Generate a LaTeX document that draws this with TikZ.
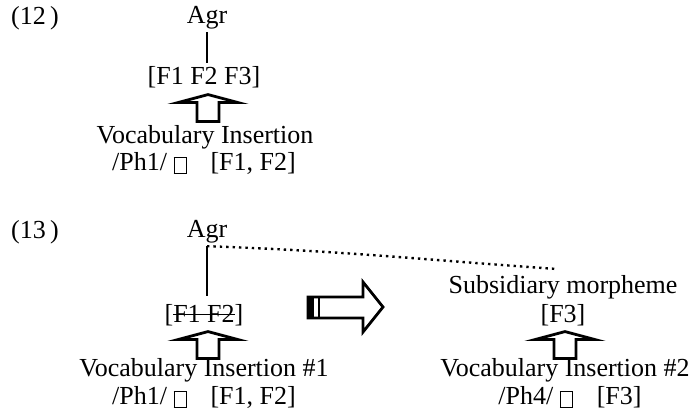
\documentclass[tikz,border=0pt]{standalone}
\usepackage{fontspec}
\setmainfont{Liberation Serif}
\usepackage{tikz}
\usetikzlibrary{calc}

\newcommand{\tofu}{\raisebox{-1.5pt}{\setlength{\fboxsep}{0pt}\setlength{\fboxrule}{0.5pt}%
	\fbox{\rule{0pt}{7.5pt}\rule{5.5pt}{0pt}}}}
\newcommand{\strikeout}[1]{\setbox0\hbox{#1}\rlap{\rule[0.3em]{\wd0}{0.45pt}}\box0}
% block arrow pointing up, #1 = tip
\newcommand{\blockup}[1]{\draw[blockarrow] (#1) -- ++(30,8) -- ++(-19,0) -- ++(0,19)
	-- ++(-22,0) -- ++(0,-19) -- ++(-19,0) -- cycle;}

\begin{document}
\begin{tikzpicture}[x=0.5pt, y=-0.5pt, thick]
\tikzstyle{every node} = [inner sep=1pt, font=\fontsize{13}{15}\selectfont]
\tikzstyle{blockarrow} = [line width=1.4pt, line join=miter, fill=white]
\useasboundingbox (0,0) rectangle (695,414);

% (12)
\node (ex12) at (35,18) {(12\,)};
\node (agr1) at (207,18) {Agr};
\node (feat1) at (204,77) {[F1 F2 F3]};
\node (vi1) at (205,137) {Vocabulary Insertion};
\node (ph1) at (204,163) {/Ph1/ \tofu\hspace{12pt}[F1, F2]};
\draw (agr1.south) -- (agr1.south |- feat1.north);
\blockup{$(feat1.south)+(4,4)$}

% (13)
\node (ex13) at (35,232) {(13\,)};
\node (agr2) at (207,232) {Agr};
\node (feat2) at (204,315) {[\strikeout{F1 F2}]};
\node (vi2) at (204,370) {Vocabulary Insertion \#1};
\node (ph2) at (204,397) {/Ph1/ \tofu\hspace{12pt}[F1, F2]};
\draw (agr2.south) -- ($(agr2.south |- feat2.north)+(0,-5)$);
\blockup{$(feat2.south)+(4,3)$}

\node (sub) at (563,287) {Subsidiary morpheme};
\node (feat3) at (563,315) {[F3]};
\node (vi3) at (565,370) {Vocabulary Insertion \#2};
\node (ph3) at (570,397) {/Ph4/ \tofu\hspace{12pt}[F3]};
\blockup{$(feat3.south)+(2,3)$}

\coordinate (dend) at (557,269);
\draw[dotted, line width=1.2pt] (agr2.south) to[out=-2, in=176] (dend);

% striped arrow
\draw[blockarrow] (308,297) -- (363,297) -- (363,282) -- (383,307) -- (363,332)
	-- (363,318) -- (308,318) -- cycle;
\fill (308,297) rectangle (314,318);
\draw[line width=0.8pt] (319,297) -- (319,318);
\end{tikzpicture}
\end{document}
